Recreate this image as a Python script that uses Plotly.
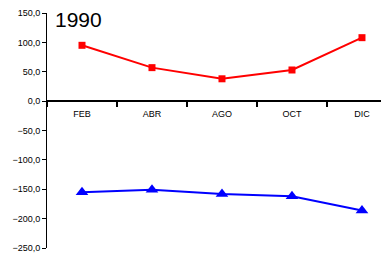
import plotly.graph_objects as go

categories = ["FEB", "ABR", "AGO", "OCT", "DIC"]
red_values = [95, 57, 38, 53, 108]
blue_values = [-155, -151, -158, -162, -186]
title_text = "1990"

fig = go.Figure()
fig.add_trace(go.Scatter(x=categories, y=red_values, mode="lines+markers",
                         line=dict(color="#ff0000", width=2),
                         marker=dict(symbol="square", size=7, color="#ff0000")))
fig.add_trace(go.Scatter(x=categories, y=blue_values, mode="lines+markers",
                         line=dict(color="#0000ff", width=2),
                         marker=dict(symbol="triangle-up", size=11, color="#0000ff")))

fig.update_layout(
    width=381, height=248,
    margin=dict(l=39, r=0, t=5, b=8),
    paper_bgcolor="white", plot_bgcolor="white",
    showlegend=False,
    separators=",.",
    font=dict(family="Liberation Sans, Arial", size=9, color="black"),
    annotations=[dict(text=title_text, x=0.018, y=1.03, xref="paper", yref="paper",
                      xanchor="left", yanchor="top", showarrow=False,
                      font=dict(size=21, color="black"))],
)
fig.update_xaxes(type="category", range=[-0.5, 4.386], automargin=False,
                 anchor="free", position=0.625,
                 showline=True, linecolor="black", linewidth=2,
                 ticks="outside", tickson="boundaries", ticklen=5, tickcolor="black",
                 tickwidth=2, showgrid=False, zeroline=False, ticklabelstandoff=4,
                 tickfont=dict(size=9, color="black"))
fig.update_yaxes(range=[-250, 150], dtick=50, tickformat=".1f", automargin=False,
                 showline=True, linecolor="black", linewidth=1,
                 ticks="outside", ticklen=4, tickcolor="black",
                 showgrid=False, zeroline=False, tickfont=dict(size=9, color="black"))

fig.write_html("out.html")
